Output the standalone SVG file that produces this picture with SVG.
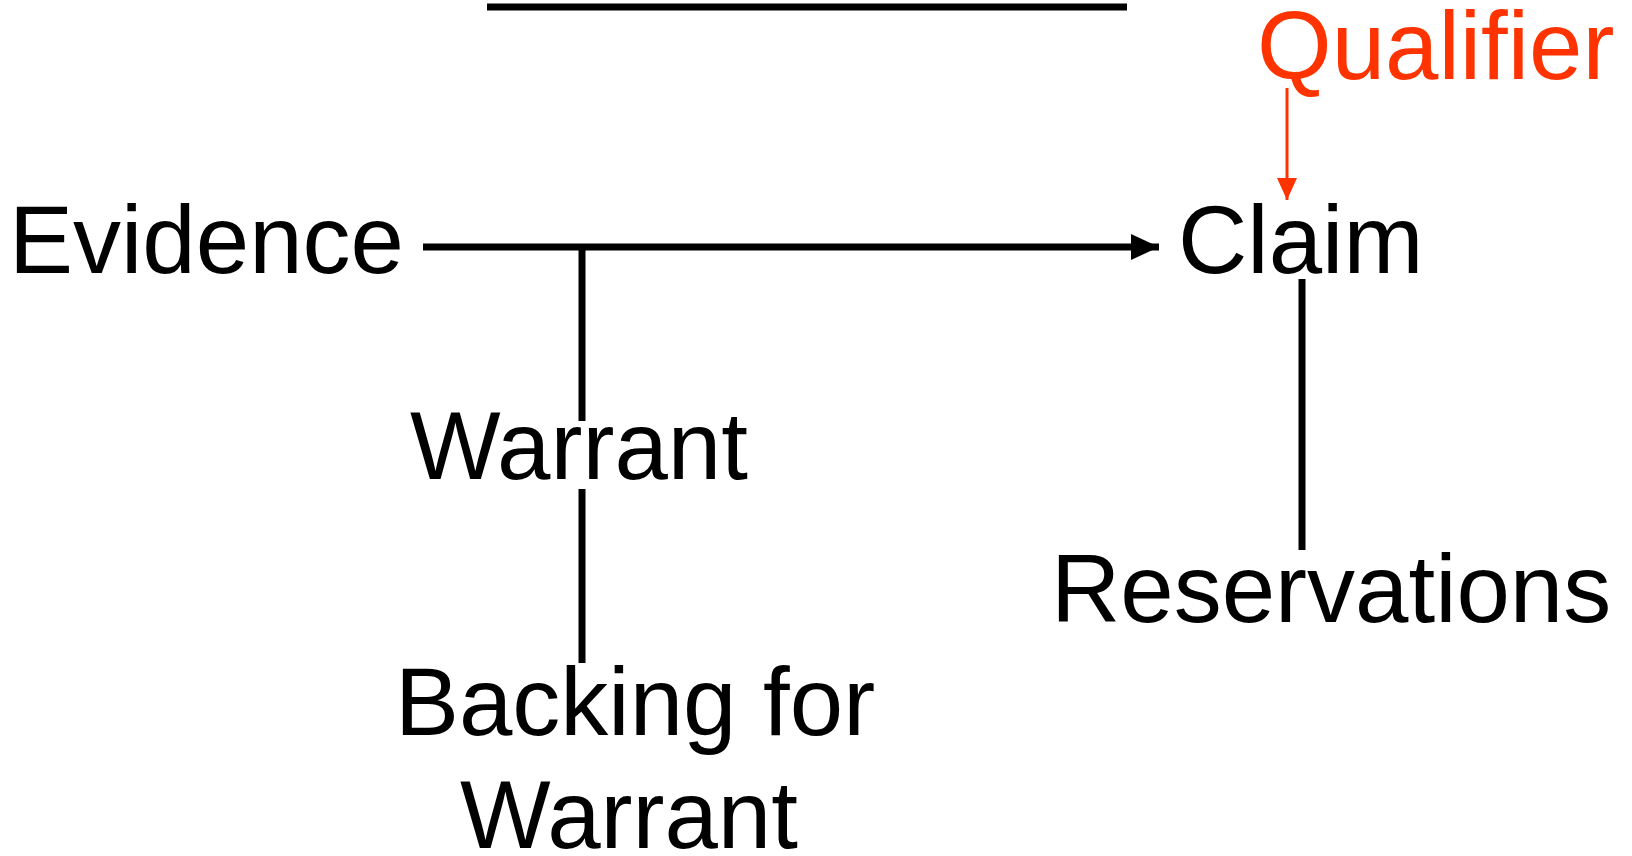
<svg xmlns="http://www.w3.org/2000/svg" width="1632" height="856" viewBox="0 0 1632 856">
<style>
  text { font-family: "Liberation Sans", Arial, sans-serif; font-size: 96px; fill: #000; }
  .red { fill: #FF3300; }
  .ln { stroke: #000; stroke-width: 7; fill: none; }
  .rl { stroke: #FF3300; stroke-width: 3; fill: none; }
</style>
<defs>
  <marker id="ah" markerUnits="userSpaceOnUse" markerWidth="30" markerHeight="28" refX="28" refY="13" orient="auto">
    <path d="M0,0 L28,13 L0,26 Z" fill="#000"/>
  </marker>
  <marker id="ahr" markerUnits="userSpaceOnUse" markerWidth="24" markerHeight="24" refX="22" refY="10" orient="auto">
    <path d="M0,0 L22,10 L0,20 Z" fill="#FF3300"/>
  </marker>
</defs>
<line x1="487" y1="7" x2="1127" y2="7" class="ln"/>
<g id="connectors">
  <line x1="423" y1="247" x2="1159" y2="247" class="ln" marker-end="url(#ah)"/>
  <line x1="582" y1="247" x2="582" y2="421" class="ln"/>
  <line x1="582" y1="489" x2="582" y2="663" class="ln"/>
  <line x1="1302" y1="279" x2="1302" y2="550" class="ln"/>
  <line x1="1287" y1="88" x2="1287" y2="200" class="rl" marker-end="url(#ahr)"/>
</g>
<g id="evidence"><text x="9" y="273">Evidence</text></g>
<g id="claim"><text x="1178" y="273">Claim</text></g>
<g id="qualifier"><text class="red" x="1257" y="79">Qualifier</text></g>
<g id="warrant"><text x="410" y="479">Warrant</text></g>
<g id="backing"><text x="635" y="735" text-anchor="middle">Backing for</text><text x="629" y="848" text-anchor="middle">Warrant</text></g>
<g id="reservations"><text x="1051" y="622">Reservations</text></g>
</svg>
